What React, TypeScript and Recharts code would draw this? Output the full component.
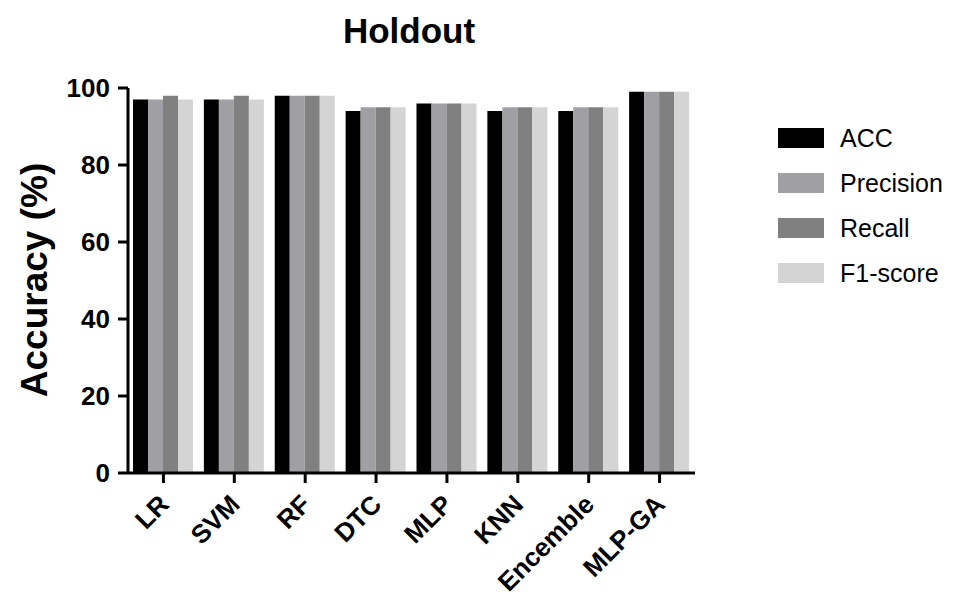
import { BarChart, Bar, XAxis, YAxis, Legend } from "recharts";

const models = ["LR", "SVM", "RF", "DTC", "MLP", "KNN", "Encemble", "MLP-GA"];
const acc = [97, 97, 98, 94, 96, 94, 94, 99];
const precision = [97, 97, 98, 95, 96, 95, 95, 99];
const recall = [98, 98, 98, 95, 96, 95, 95, 99];
const f1 = [97, 97, 98, 95, 96, 95, 95, 99];
const yTicks = [0, 20, 40, 60, 80, 100];

const series = [
  { key: "acc", name: "ACC", color: "#000000" },
  { key: "precision", name: "Precision", color: "#a0a0a4" },
  { key: "recall", name: "Recall", color: "#808080" },
  { key: "f1", name: "F1-score", color: "#d4d4d4" },
];

const data = models.map((m, i) => ({
  model: m,
  acc: acc[i],
  precision: precision[i],
  recall: recall[i],
  f1: f1[i],
}));

const FONT = "'Liberation Sans', Arial, sans-serif";

function XTick({ x, y, payload }: any) {
  return (
    <g transform={`translate(${x + 7},${y + 21}) rotate(-45)`}>
      <text textAnchor="end" fontFamily={FONT} fontWeight="bold" fontSize={26} fill="#000">
        {payload.value}
      </text>
    </g>
  );
}

function LegendBox() {
  return (
    <div style={{ fontFamily: FONT }}>
      {series.map((s) => (
        <div key={s.key} style={{ display: "flex", alignItems: "center", height: 20, marginBottom: 25 }}>
          <div style={{ width: 46, height: 20, background: s.color }} />
          <span style={{ marginLeft: 16, fontSize: 25, color: "#000", lineHeight: "20px" }}>{s.name}</span>
        </div>
      ))}
    </div>
  );
}

export default function App() {
  return (
    <div style={{ position: "absolute", left: 0, top: 0, background: "#fff" }}>
      <BarChart
        width={957}
        height={601}
        data={data}
        margin={{ top: 88, right: 262, left: 68, bottom: 68 }}
        barGap={0}
        barCategoryGap={5}
      >
        <text x={409} y={43} textAnchor="middle" fontFamily={FONT} fontWeight="bold" fontSize={35} fill="#000">
          Holdout
        </text>
        <text
          transform="translate(47,280) rotate(-90)"
          textAnchor="middle"
          fontFamily={FONT}
          fontWeight="bold"
          fontSize={37}
          fill="#000"
        >
          Accuracy (%)
        </text>
        <XAxis
          dataKey="model"
          height={60}
          interval={0}
          tick={<XTick />}
          tickSize={10}
          tickMargin={2}
          axisLine={{ stroke: "#000", strokeWidth: 3 }}
          tickLine={{ stroke: "#000", strokeWidth: 3 }}
        />
        <YAxis
          width={60}
          domain={[0, 100]}
          ticks={yTicks}
          tickSize={10}
          tickMargin={8}
          axisLine={{ stroke: "#000", strokeWidth: 3 }}
          tickLine={{ stroke: "#000", strokeWidth: 3 }}
          tick={{ fill: "#000", fontSize: 26, fontWeight: "bold", fontFamily: FONT }}
        />
        <Legend
          layout="vertical"
          align="center"
          verticalAlign="middle"
          content={<LegendBox />}
          wrapperStyle={{ left: 778, top: 128, width: 179 }}
        />
        {series.map((s) => (
          <Bar key={s.key} dataKey={s.key} name={s.name} fill={s.color} isAnimationActive={false} />
        ))}
      </BarChart>
    </div>
  );
}
